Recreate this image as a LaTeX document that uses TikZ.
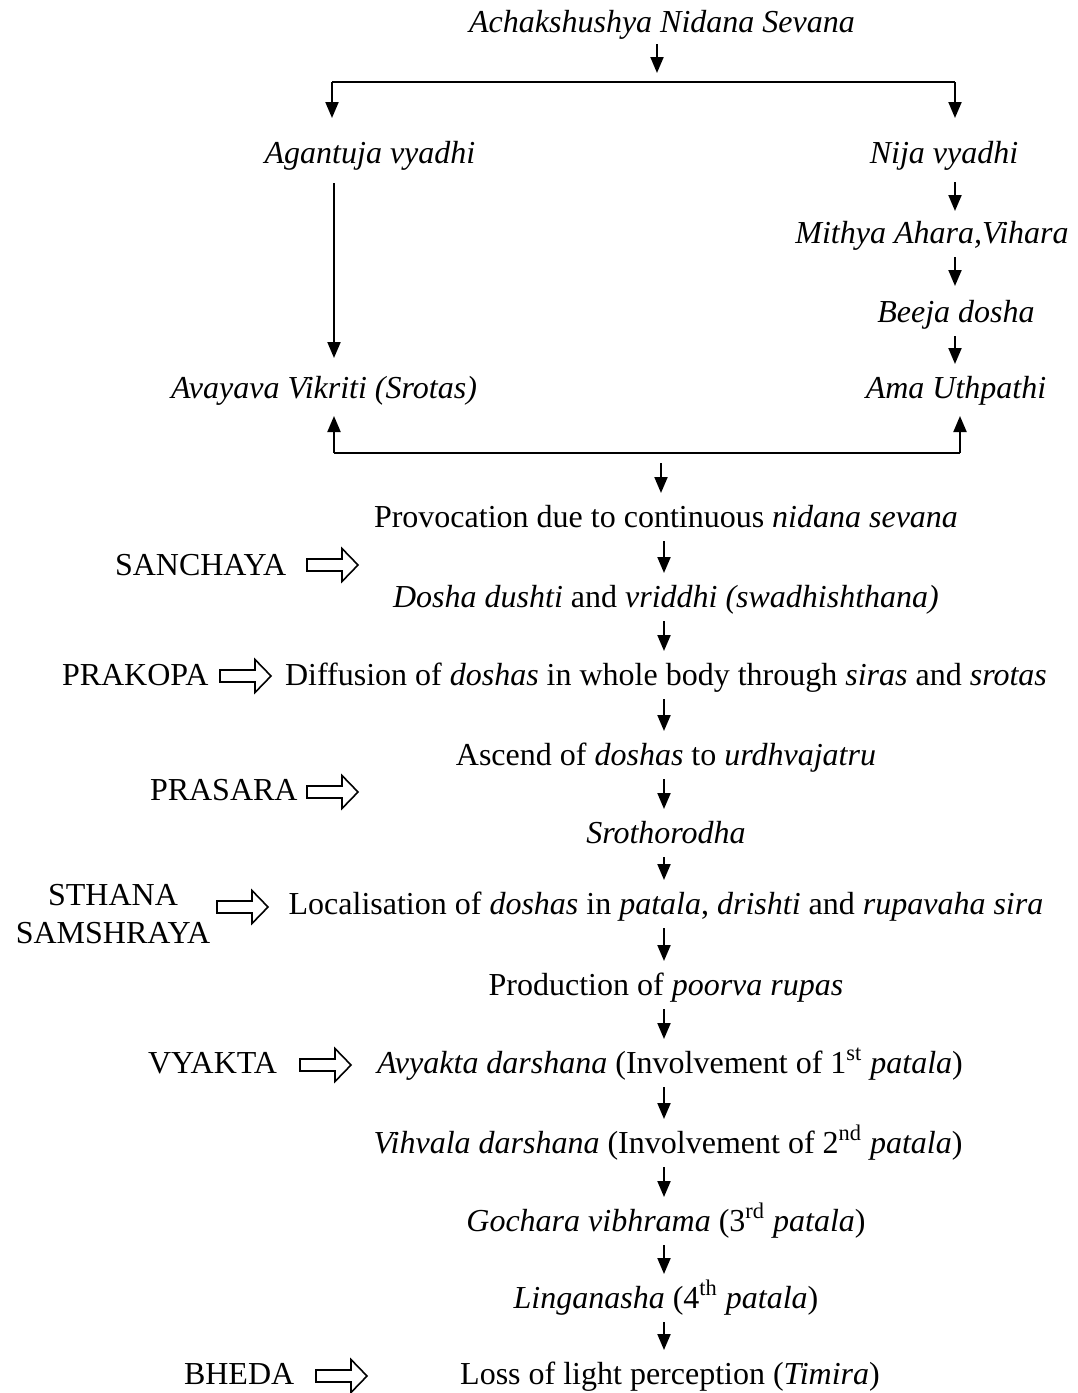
\documentclass[tikz,border=0pt]{standalone}
\usepackage{fontspec}
\setmainfont{Liberation Serif}
\usetikzlibrary{arrows.meta,calc}
\begin{document}
\begin{tikzpicture}[x=0.5pt,y=-0.5pt,
  every node/.style={inner sep=0pt,outer sep=0pt,font=\fontsize{16pt}{19pt}\selectfont},
  txt/.style={anchor=base},
  lbl/.style={anchor=base west},
  arr/.style={line width=1pt,-{Triangle[length=8pt,width=6.5pt]}},
  ln/.style={line width=1pt},
  harrow/.pic={\draw[line width=0.8pt,miter limit=10] (0,-6) -- (35,-6) -- (35,-16.5) -- (51,0) -- (35,16.5) -- (35,6) -- (0,6) -- cycle;}
]
\useasboundingbox (0,0) rectangle (1077,1393);

% ---------- top part ----------
\node[txt] (src) at (662,32) {\itshape Achakshushya Nidana Sevana};
\coordinate (split) at (657,82);
\coordinate (bl) at (332,82);
\coordinate (br) at (955,82);
\node[txt] (agan) at (370,163) {\itshape Agantuja vyadhi};
\node[txt] (nija) at (944,163) {\itshape Nija vyadhi};
\node[txt] (mith) at (932,243) {\itshape Mithya Ahara,Vihara};
\node[txt] (beeja) at (956,322) {\itshape Beeja dosha};
\node[txt] (aval) at (324,398) {\itshape Avayava Vikriti (Srotas)};
\node[txt] (ama) at (956,398) {\itshape Ama Uthpathi};
\coordinate (lc) at (334,0);
\coordinate (rc) at (955,0);
\coordinate (jl) at (334,453);
\coordinate (jr) at (960,453);
\coordinate (jc) at (661,453);

\draw[arr] ($(src.base -| split)+(0,12)$) -- ($(split)+(0,-9)$);
\draw[ln] (bl) -- (br);
\draw[arr] (bl) -- ($(agan.base -| bl)+(0,-45)$);
\draw[arr] (br) -- ($(nija.base -| br)+(0,-45)$);
\draw[arr] ($(agan.base -| lc)+(0,20)$) -- ($(aval.base -| lc)+(0,-40)$);
\draw[arr] ($(nija.base -| rc)+(0,19)$) -- ($(mith.base -| rc)+(0,-32)$);
\draw[arr] ($(mith.base -| rc)+(0,14)$) -- ($(beeja.base -| rc)+(0,-36)$);
\draw[arr] ($(beeja.base -| rc)+(0,14)$) -- ($(ama.base -| rc)+(0,-34)$);
\draw[arr] (jl) -- ($(aval.base -| jl)+(0,18)$);
\draw[arr] (jr) -- ($(ama.base -| jr)+(0,18)$);
\draw[ln] (jl) -- (jr);

% ---------- main column ----------
\node[txt] (prov) at (666,527) {Provocation due to continuous \textit{nidana sevana}};
\node[txt] (dosha) at (666,607) {\textit{Dosha dushti} and \textit{vriddhi (swadhishthana)}};
\node[txt] (diff) at (666,685) {Diffusion of \textit{doshas} in whole body through \textit{siras} and \textit{srotas}};
\node[txt] (asc) at (666,765) {Ascend of \textit{doshas} to \textit{urdhvajatru}};
\node[txt] (sroto) at (666,843) {\textit{Srothorodha}};
\node[txt] (local) at (666,914) {Localisation of \textit{doshas} in \textit{patala}, \textit{drishti} and \textit{rupavaha sira}};
\node[txt] (prod) at (666,995) {Production of \textit{poorva rupas}};
\node[txt] (avy) at (670,1073) {\textit{Avyakta darshana} (Involvement of 1\textsuperscript{st} \textit{patala})};
\node[txt] (vih) at (668,1153) {\textit{Vihvala darshana} (Involvement of 2\textsuperscript{nd} \textit{patala})};
\node[txt] (goch) at (666,1231) {\textit{Gochara vibhrama} (3\textsuperscript{rd} \textit{patala})};
\node[txt] (ling) at (666,1308) {\textit{Linganasha} (4\textsuperscript{th} \textit{patala})};
\node[txt] (loss) at (670,1384) {Loss of light perception (\textit{Timira})};

\coordinate (col) at (664,0);
\draw[arr] (jc |- jl) ++(0,10) -- ($(prov.base -| jc)+(0,-34)$);
\foreach \a/\b in {prov/dosha,dosha/diff,diff/asc,asc/sroto,sroto/local,local/prod,prod/avy,avy/vih,vih/goch,goch/ling,ling/loss}
  \draw[arr] ($(\a.base -| col)+(0,14)$) -- ($(\b.base -| col)+(0,-34)$);

% ---------- stage labels ----------
\node[lbl] (sanch) at (115,575) {SANCHAYA};
\pic at (307,565) {harrow};
\node[lbl] (prak) at (62,685) {PRAKOPA};
\pic at (220,676) {harrow};
\node[lbl] (pras) at (150,800) {PRASARA};
\pic at (307,792) {harrow};
\node[txt] (sth) at (113,905) {STHANA};
\node[txt] (sam) at (113,943) {SAMSHRAYA};
\pic at (217,907) {harrow};
\node[lbl] (vyak) at (148,1073) {VYAKTA};
\pic at (300,1065) {harrow};
\node[lbl] (bheda) at (184,1384) {BHEDA};
\pic at (316,1376) {harrow};
\end{tikzpicture}
\end{document}
